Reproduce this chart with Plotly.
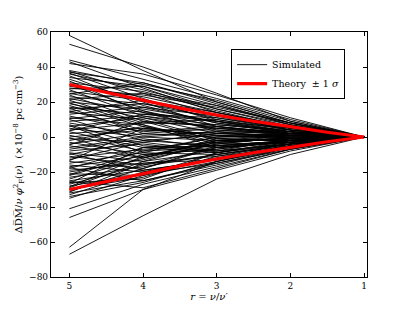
import plotly.graph_objects as go

# r sample points for simulated curves
r_points = [5, 4, 3, 2, 1]

# simulated curves: value at each r point (r=1 is always 0)
sim_r5 = [58, 53, 44, 43, 42, 38, 37.5, 37, 36.5, 36, 35, 34, 33, 31, 30, 28, 27, 26, 25, 24,
          23, 22, 21, 20, 18, 17, 15, 14, 13, 12, 11, 10, 9, 8, 7, 6, 5, 4, 3, 2,
          1, 0, -1, -2, -3, -4, -5, -6, -8, -9, -10, -11, -12, -13, -14, -15, -16, -17, -18, -19,
          -20, -21, -22, -23, -24, -25, -26, -27, -28, -29, -30, -31, -32, -33, -34, -41, -46, -63, -67, 29,
          -7, 16, 19, -35, 32, 27.5, 21.5, 19.5, 16.5, 14.5, 10.5, 6.5, 3.5, -0.5, -4.5, -9.5, -13.5, -17.5, -21.5, -25.5,
          -28.5, -31.5, -26.5, 24.5]
sim_r4 = [38, 40, 33, 28, 36, 30, 25, 31, 22, 27, 18, 29, 20, 26, 15, 24, 12, 21, 17, 9,
          19, 14, 8, 16, 6, 13, 4, 10, 17, 3, 7, -2, 12, 1, -5, 11, 0, 8, -6, 5,
          -8, 4, -3, 6, -10, 2, -12, 0, -4, -14, -2, -16, -7, -3, -18, -9, -20, -11, -6, -15,
          -13, -22, -10, -17, -12, -19, -24, -16, -21, -14, -23, -18, -25, -20, -26, -27, -30, -30, -45, 23,
          -1, 19, 11, -22, 14, 29, 25, 7, 2, 21, 15, -9, 13, -12, 9, -19, 5, -25, -8, -29,
          -11, -15, -6, 31]
sim_r3 = [20, 25, 22, 14, 24, 21, 12, 20, 9, 16, 8, 18, 6, 15, 3, 17, 5, 10, 12, -2,
          13, 4, 7, 9, -4, 11, 2, -1, 8, 6, -3, -5, 7, 3, -8, 5, -2, 10, -3, 1,
          -6, 4, 2, -1, -7, 5, -4, 3, -9, -3, 1, -10, -5, -8, -6, 0, -12, -2, -9, -11,
          -4, -14, -7, -10, -1, -13, -9, -6, -15, -8, -11, -5, -16, -12, -14, -17, -19, -14, -24, 14,
          -6, 11, 2, -9, 9, 16, 18, -6, 0, 14, 6, -10, 9, -2, 6, -13, 1, -15, 0, -18,
          -3, -13, -5, 19]
sim_r2 = [8, 9, 10, 5, 11, 9, 4, 8, 3, 6, 2, 7, 1, 5, -1, 8, 2, 3, 6, -2,
          4, 1, 3, 2, -3, 5, 1, -2, 3, 2, -1, -2, 4, 0, -4, 1, 1, 4, -1, -1,
          -3, 2, 1, -2, -2, 3, 0, 2, -4, -1, 0, -5, -3, -4, -2, 1, -5, -1, -3, -6,
          0, -6, -2, -4, 1, -5, -3, -2, -7, -1, -4, -2, -6, -5, -4, -7, -8, -5, -10, 6,
          -3, 4, 0, -2, 3, 7, 8, -3, 1, 5, 2, -4, 5, 0, 2, -5, -1, -6, 2, -7,
          -1, -3, -2, 7]
sim_r1 = [0] * len(sim_r5)

# theory +/- 1 sigma
theory_r = [5, 4.5, 4, 3.5, 3, 2.5, 2, 1.5, 1]
theory_sigma = [30, 25.5, 21, 16.5, 12.6, 9, 5.9, 2.7, 0]

font_family = "DejaVu Serif, Liberation Serif, serif"

fig = go.Figure()
for i in range(len(sim_r5)):
    fig.add_trace(go.Scatter(
        x=r_points, y=[sim_r5[i], sim_r4[i], sim_r3[i], sim_r2[i], sim_r1[i]],
        mode="lines", line=dict(color="black", width=0.9),
        name="Simulated", legendgroup="sim", showlegend=(i == 0), hoverinfo="skip"))

fig.add_trace(go.Scatter(x=theory_r, y=theory_sigma, mode="lines",
                         line=dict(color="#ff0000", width=3.2),
                         name="Theory  \u00b1 1 <i>\u03c3</i>", legendgroup="th", showlegend=True))
fig.add_trace(go.Scatter(x=theory_r, y=[-s for s in theory_sigma], mode="lines",
                         line=dict(color="#ff0000", width=3.2),
                         name="Theory", legendgroup="th", showlegend=False))

axis_common = dict(showline=True, linecolor="black", linewidth=1.2, mirror="ticks",
                   ticks="inside", ticklen=4, tickcolor="black", showgrid=False,
                   zeroline=False, automargin=False,
                   tickfont=dict(family=font_family, size=9, color="black"))

# page body has an 8px margin: shrink figure so the plot area lands where the reference's does
fig.update_layout(
    width=401, height=301,
    margin=dict(l=43, r=42, t=24, b=32),
    paper_bgcolor="white", plot_bgcolor="white",
    font=dict(family=font_family, color="black"),
    xaxis=dict(range=[5.25, 0.96], tickvals=[5, 4, 3, 2, 1],
               title=dict(text="<i>r</i> = <i>\u03bd</i>/<i>\u03bd\u2032</i>",
                          font=dict(family=font_family, size=10), standoff=3),
               **axis_common),
    yaxis=dict(range=[-80, 60], tickvals=[-80, -60, -40, -20, 0, 20, 40, 60],
               title=dict(text="\u0394D\u0305M\u0305/<i>\u03bd \u03c6</i><sup>2</sup><sub>F</sub>(<i>\u03bd</i>)  (\u00d710<sup>\u22128</sup> pc cm<sup>\u22123</sup>)",
                          font=dict(family=font_family, size=10), standoff=4),
               **axis_common),
    legend=dict(x=0.57, y=0.93, xanchor="left", yanchor="top",
                bgcolor="white", bordercolor="black", borderwidth=1,
                font=dict(family=font_family, size=9.5), tracegroupgap=0,
                itemwidth=30),
    showlegend=True,
)

fig.write_html("out.html")
